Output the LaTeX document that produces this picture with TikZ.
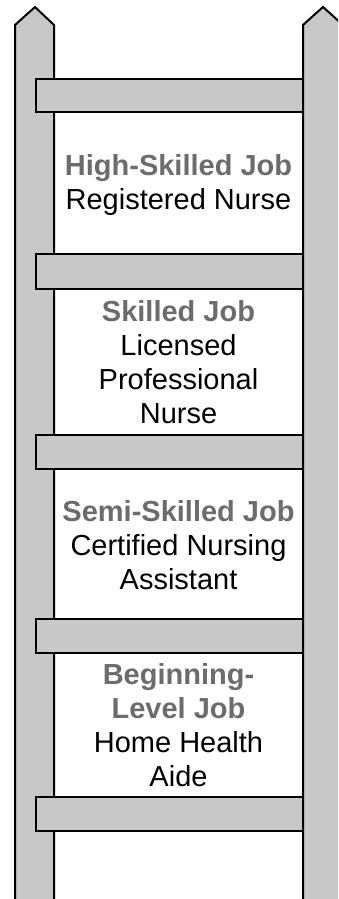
\documentclass[tikz,border=0pt]{standalone}
\usepackage{fontspec}
\setmainfont{Liberation Sans}
\usepackage{xcolor}
\definecolor{railgray}{RGB}{200,200,200}
\definecolor{jobgray}{RGB}{108,108,108}
\tikzset{
  rail/.style={fill=railgray,draw=black,line width=2pt,line join=miter},
  rung/.style={fill=railgray,draw=black,line width=2pt},
  joblabel/.style={align=center,inner sep=0pt,font=\fontsize{29}{34}\selectfont}
}
\newcommand{\jobhead}[1]{{\bfseries\color{jobgray}#1}}

\begin{document}
\begin{tikzpicture}[x=1pt,y=1pt]
  \useasboundingbox (0,0) rectangle (338,899);
  \clip (0,0) rectangle (338,899);
  \draw[rail] (15,-5) -- (15,874) -- (35,892) -- (54,874) -- (54,-5) -- cycle;
  \draw[rail] (303,-5) -- (303,874) -- (323,892) -- (343,874) -- (343,-5) -- cycle;
  \foreach \lo/\hi in {787/820,610/645,430/464,246/280,68/102}
    \draw[rung] (36,\lo) rectangle (303,\hi);
  \node[joblabel] (high) at (178.5,714) {\jobhead{High-Skilled Job}\\Registered Nurse};
  \node[joblabel] (skilled) at (178.5,537) {\jobhead{Skilled Job}\\Licensed\\Professional\\Nurse};
  \node[joblabel] (semi) at (178.5,354) {\jobhead{Semi-Skilled Job}\\Certified Nursing\\Assistant};
  \node[joblabel] (begin) at (178.5,174) {\jobhead{Beginning-}\\\jobhead{Level Job}\\Home Health\\Aide};
\end{tikzpicture}
\end{document}
